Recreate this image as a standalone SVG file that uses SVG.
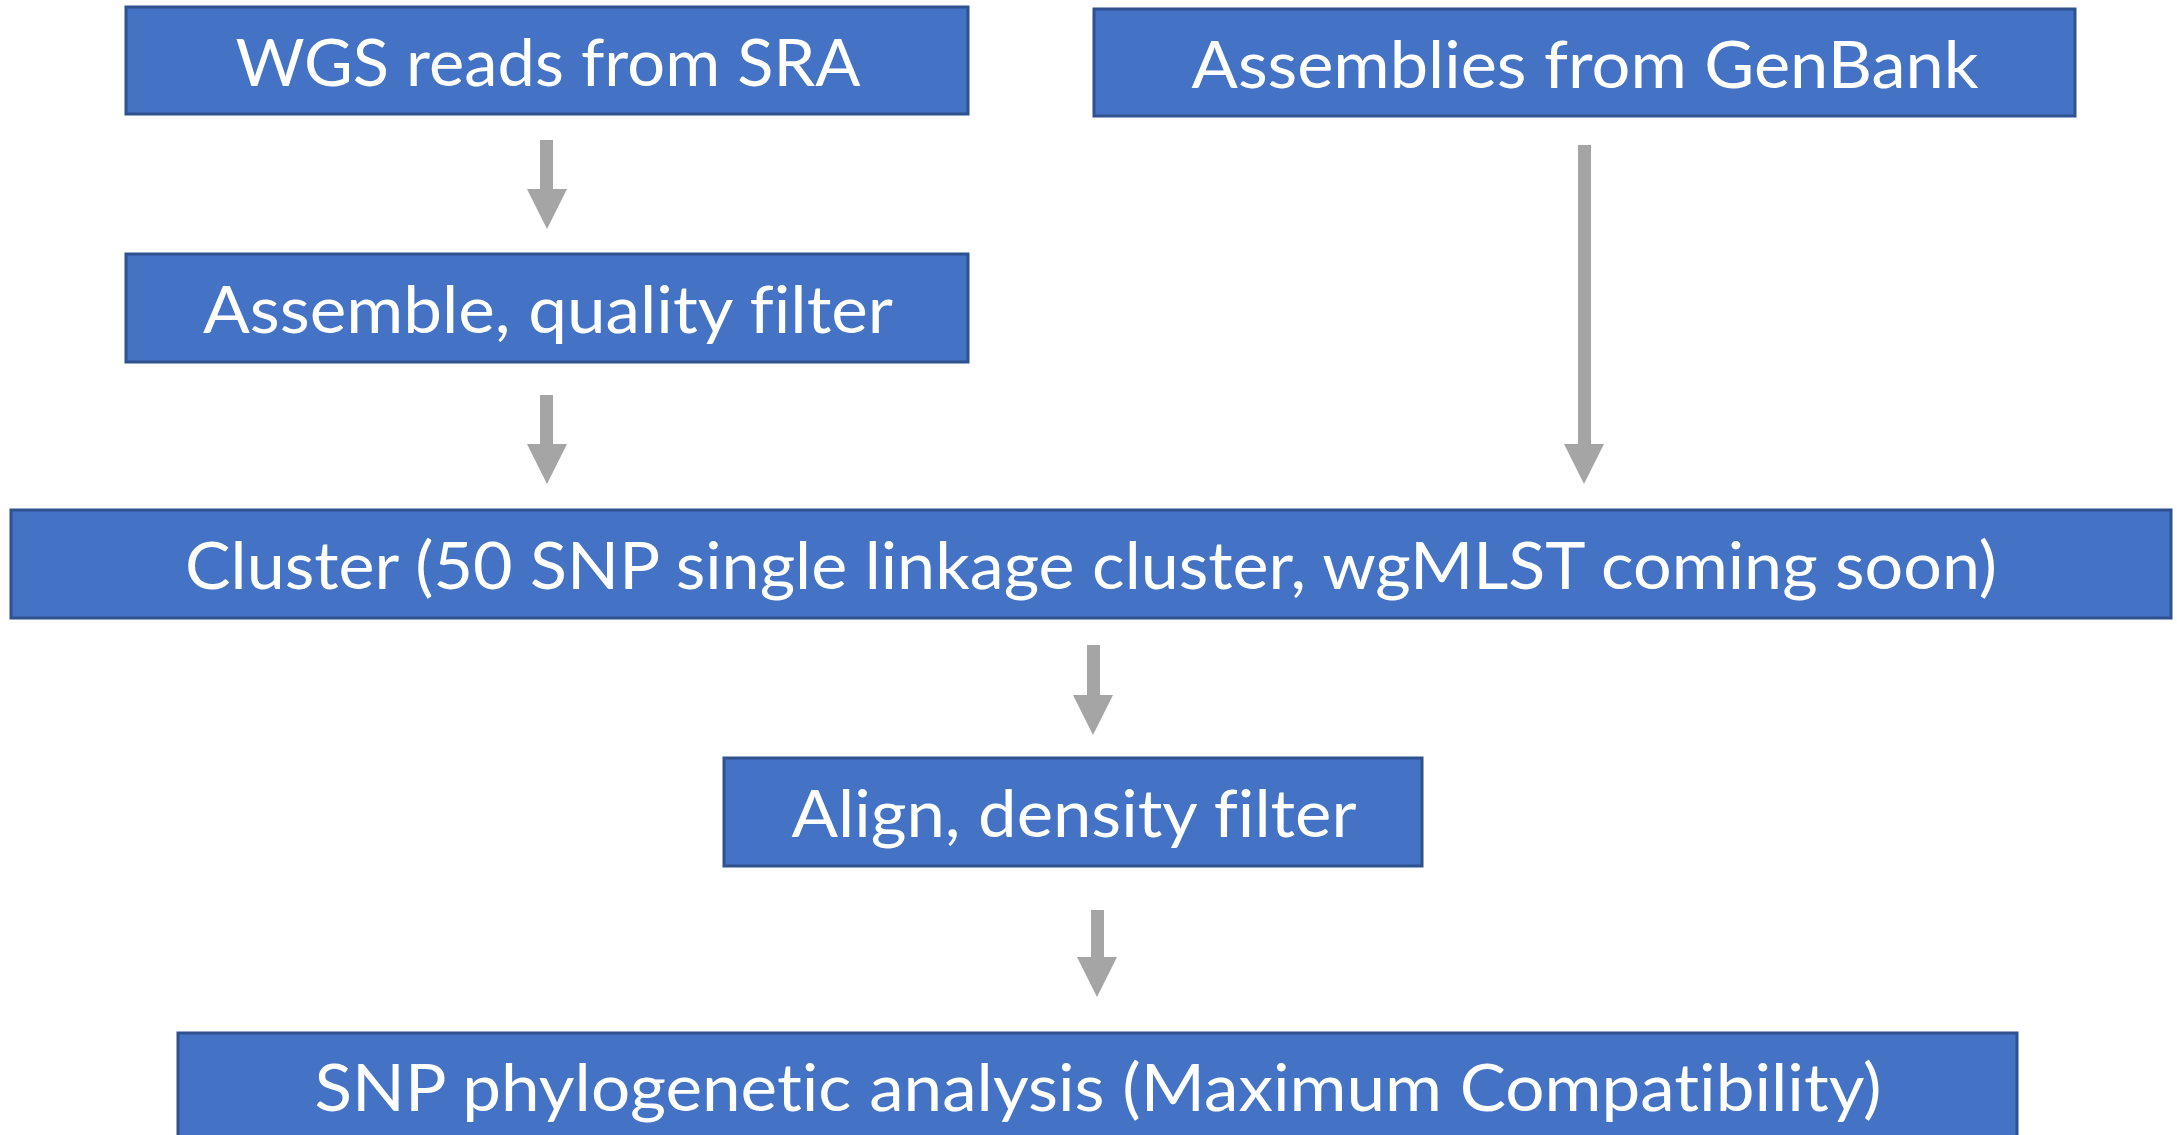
<svg xmlns="http://www.w3.org/2000/svg" width="2177" height="1135" viewBox="0 0 2177 1135">
<style>
.box{fill:#4472C4;stroke:#2F528F;stroke-width:3}
.lbl{fill:#FFFFFF;font-family:Lato,"Open Sans","Liberation Sans",sans-serif;font-size:66px;text-anchor:middle;font-variant-ligatures:none}
.arr{fill:#A5A5A5}
</style>
<rect width="2177" height="1135" fill="#FFFFFF"/>
<g id="connectors">
<polygon class="arr" points="540,140 553,140 553,189 567,189 547,229 527,189 540,189"/>
<polygon class="arr" points="540,395 553,395 553,444 567,444 547,484 527,444 540,444"/>
<polygon class="arr" points="1578,145 1591,145 1591,444 1604,444 1584,484 1564,444 1578,444"/>
<polygon class="arr" points="1087,645 1100,645 1100,695 1113,695 1093,735 1073,695 1087,695"/>
<polygon class="arr" points="1091,910 1104,910 1104,957 1117,957 1097,997 1077,957 1091,957"/>
</g>
<g id="node-wgs">
<rect class="box" x="126" y="7" width="842" height="107"/>
<text class="lbl" x="548" y="86" textLength="625" lengthAdjust="spacingAndGlyphs">WGS reads from SRA</text>
</g>
<g id="node-genbank">
<rect class="box" x="1094" y="9" width="981" height="107"/>
<text class="lbl" x="1585" y="88" textLength="787" lengthAdjust="spacingAndGlyphs">Assemblies from GenBank</text>
</g>
<g id="node-assemble">
<rect class="box" x="126" y="254" width="842" height="108"/>
<text class="lbl" x="548" y="333" textLength="690" lengthAdjust="spacingAndGlyphs">Assemble, quality filter</text>
</g>
<g id="node-cluster">
<rect class="box" x="11" y="510" width="2160" height="108"/>
<text class="lbl" x="1091" y="589" textLength="1812" lengthAdjust="spacingAndGlyphs">Cluster (50 SNP single linkage cluster, wgMLST coming soon)</text>
</g>
<g id="node-align">
<rect class="box" x="724" y="758" width="698" height="108"/>
<text class="lbl" x="1074" y="837" textLength="565" lengthAdjust="spacingAndGlyphs">Align, density filter</text>
</g>
<g id="node-snp">
<rect class="box" x="178" y="1033" width="1839" height="110"/>
<text class="lbl" x="1098" y="1111" textLength="1567" lengthAdjust="spacingAndGlyphs">SNP phylogenetic analysis (Maximum Compatibility)</text>
</g>
</svg>
